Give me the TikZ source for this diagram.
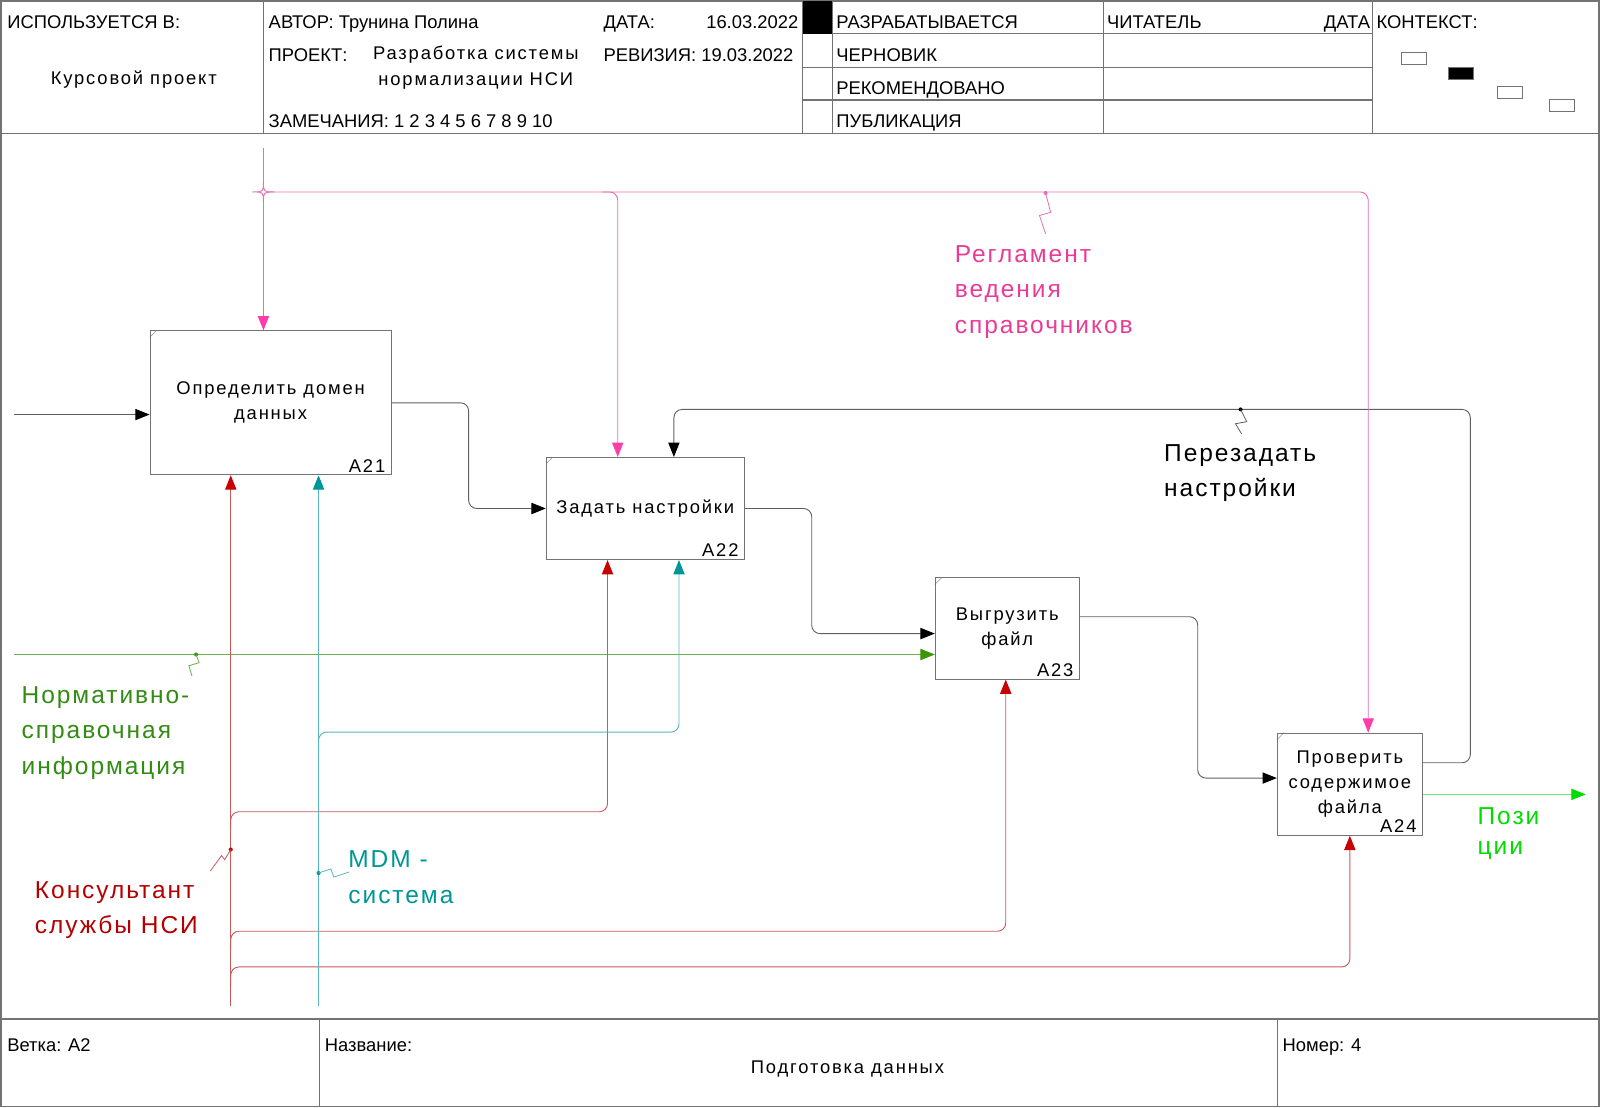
\documentclass[tikz,border=0pt]{standalone}
\usepackage{fontspec}
\setmainfont{Liberation Sans}
\newfontfamily\boxfont[LetterSpace=10]{Liberation Sans}
\newfontfamily\lblfont[LetterSpace=8]{Liberation Sans}
\usetikzlibrary{calc}
\usetikzlibrary{arrows.meta}

\definecolor{frameln}{RGB}{115,115,115}
\definecolor{arrln}{RGB}{95,95,95}
\definecolor{pinkln}{RGB}{228,112,180}
\definecolor{pinktip}{RGB}{255,60,170}
\definecolor{pinktx}{RGB}{232,60,150}
\definecolor{greenln}{RGB}{110,175,80}
\definecolor{greentip}{RGB}{60,150,10}
\definecolor{greentx}{RGB}{50,140,20}
\definecolor{redln}{RGB}{200,90,90}
\definecolor{redtip}{RGB}{200,0,0}
\definecolor{redtx}{RGB}{180,0,0}
\definecolor{tealln}{RGB}{90,180,195}
\definecolor{tealtip}{RGB}{0,150,150}
\definecolor{tealtx}{RGB}{0,150,150}
\definecolor{outln}{RGB}{110,230,110}
\definecolor{outtip}{RGB}{0,220,0}
\definecolor{outtx}{RGB}{0,220,0}

\begin{document}
\begin{tikzpicture}[x=1pt,y=-1pt,
  frm/.style={draw=frameln, line width=1.2pt},
  hd/.style={anchor=base west, inner sep=0, font=\fontsize{18}{22}\selectfont},
  fn/.style={draw=frameln, line width=1pt, fill=white, inner sep=0, align=center, font=\boxfont\fontsize{18}{24.5}\selectfont},
  num/.style={anchor=south east, inner sep=0, font=\boxfont\fontsize{18}{22}\selectfont},
  lbl/.style={anchor=north west, inner sep=0, align=left, font=\lblfont\fontsize{24}{35}\selectfont},
  arr/.style={draw=arrln, line width=0.9pt, rounded corners=8pt, -{Triangle[length=14pt,width=11pt,color=black]}},
  ctl/.style={draw=pinkln, line width=0.9pt, rounded corners=8pt, -{Triangle[length=14pt,width=11pt,color=pinktip]}},
  inp/.style={draw=greenln, line width=0.9pt, -{Triangle[length=14pt,width=11pt,color=greentip]}},
  mech/.style={draw=redln, line width=0.9pt, rounded corners=8pt, -{Triangle[length=14pt,width=11pt,color=redtip]}},
  mdm/.style={draw=tealln, line width=0.9pt, rounded corners=8pt, -{Triangle[length=14pt,width=11pt,color=tealtip]}},
  outp/.style={draw=outln, line width=0.9pt, -{Triangle[length=14pt,width=11pt,color=outtip]}}]
\useasboundingbox (0,0) rectangle (1567,1085);

% frame, header and footer
\draw[frm] (1,1) rectangle (1566,1084);
\draw[frm] (1,131) -- (1566,131);
\draw[frm] (1,998) -- (1566,998);
\foreach \x in {258,786,815,1081,1344} \draw[frm] (\x,1) -- (\x,131);
\foreach \y in {33,66,98} \draw[frm] (786,\y) -- (1344,\y);
\foreach \x in {313,1251} \draw[frm] (\x,998) -- (\x,1084);
\fill (786,1) rectangle (815,33);
\foreach \x/\y/\f in {1372/51/white,1418/66/black,1466/84/white,1517/97/white} \draw[draw=frameln, fill=\f] (\x,\y) rectangle ++(25,12);

\node[hd] (used) at (7,28) {ИСПОЛЬЗУЕТСЯ В:};
\node[hd, anchor=base, font=\boxfont\fontsize{18}{22}\selectfont] (course) at (131,83) {Курсовой проект};
\node[hd] (author) at (263,28) {АВТОР: Трунина Полина};
\node[hd] (proj) at (263,60) {ПРОЕКТ:};
\node[hd, anchor=north, align=center, font=\boxfont\fontsize{18}{25}\selectfont] (projname) at (466,45) {Разработка системы\\нормализации НСИ};
\node[hd] (notes) at (263,125) {ЗАМЕЧАНИЯ: 1 2 3 4 5 6 7 8 9 10};
\node[hd] (date) at (591,28) {ДАТА:};
\node[hd, anchor=base east] (dateval) at (782,28) {16.03.2022};
\node[hd] (rev) at (591,60) {РЕВИЗИЯ: 19.03.2022};
\foreach \t [count=\i] in {РАЗРАБАТЫВАЕТСЯ,ЧЕРНОВИК,РЕКОМЕНДОВАНО,ПУБЛИКАЦИЯ} \node[hd] (st\i) at (819,{28+32.3*(\i-1)}) {\t};
\node[hd] (reader) at (1084,28) {ЧИТАТЕЛЬ};
\node[hd, anchor=base east] (rdate) at (1342,28) {ДАТА};
\node[hd] (context) at (1348,28) {КОНТЕКСТ:};
\node[hd] (branch) at (7,1030) {Ветка: А2};
\node[hd] (title) at (318,1030) {Название:};
\node[hd, anchor=base, font=\boxfont\fontsize{18}{22}\selectfont] (titleval) at (830,1051) {Подготовка данных};
\node[hd] (pagenum) at (1256,1030) {Номер: 4};

% functions
\node[fn, minimum width=236pt, minimum height=141pt] (a21) at (265,394.5) {Определить домен\\данных};
\node[fn, minimum width=194pt, minimum height=100pt] (a22) at (632,498) {Задать настройки};
\node[fn, minimum width=141pt, minimum height=99pt] (a23) at (986.5,615.5) {Выгрузить\\файл};
\node[fn, minimum width=142pt, minimum height=100pt] (a24) at (1322,768) {Проверить\\содержимое\\файла};
\foreach \b/\n in {a21/A21,a22/A22,a23/A23,a24/A24} {
  \node[num] (n\b) at ($(\b.south east)+(-6,-3)$) {\n};
  \draw[draw=frameln] ($(\b.north west)+(0,7)$) -- ++(7,-7);
}

% free ends
\coordinate (in1) at (14,406);
\coordinate (in2) at (14,641);
\coordinate (ctlin) at (258,145);
\coordinate (jn) at (258,188);
\coordinate (m1) at (226,985);
\coordinate (m2) at (312,985);
\coordinate (out1) at (1553,778);

% black arrows
\draw[arr] (in1) -- (in1 -| a21.west);
\draw[arr] (a21.east) -- (459,394.5) -- (459,498) -- (a22.west);
\draw[arr] (a22.east) -- (795,498) -- (795,620.5) -- ([yshift=-5pt]a23.west);
\draw[arr] ([yshift=11.5pt]a23.east) -- (1173,604) -- (1173,762) -- ([yshift=6pt]a24.west);
\draw[arr] ([yshift=21pt]a24.east) -- (1440,747) -- (1440,401) -- (660,401) -- ([xshift=28pt]a22.north);

% input and output
\draw[inp] (in2) -- ([yshift=-25.5pt]a23.west);
\draw[outp] ([yshift=-10pt]a24.east) -- (out1);

% controls
\draw[ctl] (ctlin) -- ([xshift=-7pt]a21.north);
\draw[ctl] (jn) -- (1340,188) -- ([xshift=18pt]a24.north);
\draw[ctl] (590,188) -- (605,188) -- ([xshift=-27pt]a22.north);
\draw[draw=pinkln, line width=0.9pt, fill=white] ($(jn)+(-11,0)$) .. controls (jn) .. ($(jn)+(0,-10)$) .. controls (jn) .. ($(jn)+(11,0)$) .. controls (jn) .. ($(jn)+(0,10)$) .. controls (jn) .. cycle;

% mechanisms
\draw[mech] (m1) -- ([xshift=-39pt]a21.south);
\draw[mech] (226,812) -- (226,795) -- (595,795) -- ([xshift=-37pt]a22.south);
\draw[mech] (226,930) -- (226,912) -- (985,912) -- ([xshift=-1.5pt]a23.south);
\draw[mech] (226,965) -- (226,947) -- (1322,947) -- (a24.south);
\draw[mdm] (m2) -- ([xshift=47pt]a21.south);
\draw[mdm] (312,735) -- (312,717) -- (665,717) -- ([xshift=33pt]a22.south);

% labels
\node[lbl, text=pinktx] (lctl) at (935,240) {Регламент\\ведения\\справочников};
\coordinate (t1) at (1024,189);
\fill[pinkln] (t1) circle (2pt);
\draw[pinkln, line width=0.8pt] (t1) -- ++(5,19) -- ++(-11,3) -- ++(6,18);

\node[lbl, text=black] (lfb) at (1140,435) {Перезадать\\настройки};
\coordinate (t2) at (1215,401);
\fill[black] (t2) circle (2pt);
\draw[arrln, line width=0.8pt] (t2) -- ++(6,12) -- ++(-11,2) -- ++(6,10);

\node[lbl, text=greentx] (linp) at (21,672) {Нормативно-\\справочная\\информация};
\coordinate (t3) at (192,641);
\fill[greentip] (t3) circle (2pt);
\draw[greenln, line width=0.8pt] (t3) -- ++(3,8) -- ++(-10,3) -- ++(3,10);

\node[lbl, text=redtx] (lmech) at (34,863) {Консультант\\службы НСИ};
\coordinate (t4) at (226,832);
\fill[redtip] (t4) circle (2pt);
\draw[redln, line width=0.8pt] (t4) -- ++(-6,10) -- ++(-3,-4) -- ++(-11,15);

\node[lbl, text=tealtx] (lmdm) at (341,833) {MDM -\\система};
\coordinate (t5) at (312,855);
\fill[tealtip] (t5) circle (2pt);
\draw[tealln, line width=0.8pt] (t5) -- ++(12,-4) -- ++(3,8) -- ++(15,-5);

\node[lbl, text=outtx, font=\lblfont\fontsize{24}{29}\selectfont] (lout) at (1447,791) {Пози\\ции};
\end{tikzpicture}
\end{document}
